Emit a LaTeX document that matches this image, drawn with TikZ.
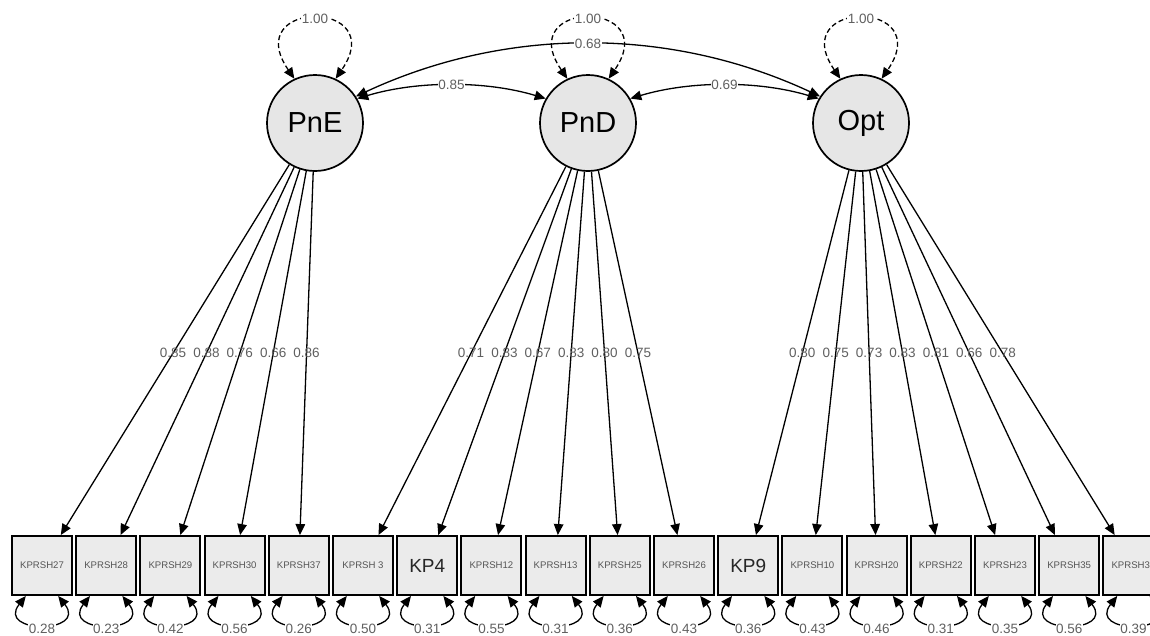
\documentclass[tikz,border=0pt]{standalone}
\usepackage{fontspec}
\setmainfont{Liberation Sans}
\usetikzlibrary{arrows.meta,calc}
\definecolor{latfill}{HTML}{E6E6E6}
\definecolor{manfill}{HTML}{EBEBEB}
\definecolor{txtgray}{HTML}{555555}
\definecolor{lblgray}{HTML}{606060}
\begin{document}
\begin{tikzpicture}[x=1pt,y=-1pt,
  tip/.tip={Triangle[length=11pt,width=9.5pt]},
  latent/.style={circle,draw,line width=1.7pt,fill=latfill,minimum size=96pt,inner sep=0pt,font=\fontsize{29}{31}\selectfont},
  manifest/.style={rectangle,draw,line width=1.9pt,fill=manfill,minimum width=60pt,minimum height=59pt,inner sep=0pt,font=\fontsize{9.6}{11}\selectfont,text=txtgray},
  bigman/.style={manifest,font=\fontsize{19}{21}\selectfont,text=black!85},
  load/.style={line width=1.3pt,-tip},
  cov/.style={line width=1.3pt,tip-tip},
  selfloop/.style={line width=1.3pt,dash pattern=on 5pt off 3pt,tip-tip},
  resid/.style={line width=1.3pt,tip-tip},
  lbl/.style={font=\fontsize{13.5}{15}\selectfont,text=lblgray,inner sep=0.5pt},
  wlbl/.style={lbl,fill=white},
]
\clip (0,0) rectangle (1150,635);
\fill[white] (0,0) rectangle (1150,635);

% latent variables
\node[latent] (PnE) at (315,123) {PnE};
\node[latent] (PnD) at (588,123) {PnD};
\node[latent] (Opt) at (861,123) {Opt};

% manifest variables
\foreach \i/\lab/\st in {0/KPRSH27/manifest,1/KPRSH28/manifest,2/KPRSH29/manifest,3/KPRSH30/manifest,4/KPRSH37/manifest,5/KPRSH 3/manifest,6/KP4/bigman,7/KPRSH12/manifest,8/KPRSH13/manifest,9/KPRSH25/manifest,10/KPRSH26/manifest,11/KP9/bigman,12/KPRSH10/manifest,13/KPRSH20/manifest,14/KPRSH22/manifest,15/KPRSH23/manifest,16/KPRSH35/manifest,17/KPRSH3\phantom{6}/manifest}
  \node[\st] (m\i) at (42+64.2*\i,565.5) {\lab};

% loadings
\foreach \i/\v in {0/0.85,1/0.88,2/0.76,3/0.66,4/0.86}{
  \draw[load] (PnE) -- (m\i);
  \node[lbl] at ($(PnE)!0.52!(m\i)$) {\v};
}
\foreach \i/\v in {5/0.71,6/0.83,7/0.67,8/0.83,9/0.80,10/0.75}{
  \draw[load] (PnD) -- (m\i);
  \node[lbl] at ($(PnD)!0.52!(m\i)$) {\v};
}
\foreach \i/\v in {11/0.80,12/0.75,13/0.73,14/0.83,15/0.81,16/0.66,17/0.78}{
  \draw[load] (Opt) -- (m\i);
  \node[lbl] at ($(Opt)!0.52!(m\i)$) {\v};
}

% residual variances
\foreach \i/\v in {0/0.28,1/0.23,2/0.42,3/0.56,4/0.26,5/0.50,6/0.31,7/0.55,8/0.31,9/0.36,10/0.43,11/0.36,12/0.43,13/0.46,14/0.31,15/0.35,16/0.56,17/0.39}
  \draw[resid] (m\i.-118) .. controls +(-30,38) and +(30,38) .. node[wlbl,yshift=-4pt] {\v} (m\i.-62);

% latent variances
\foreach \n in {PnE,PnD,Opt}
  \draw[selfloop] (\n.115) .. controls +(-55,-80) and +(55,-80) .. node[wlbl] {1.00} (\n.65);

% covariances
\draw[cov] (PnE.30) .. controls +(60,-18) and +(-60,-18) .. node[wlbl] {0.85} (PnD.150);
\draw[cov] (PnD.30) .. controls +(60,-18) and +(-60,-18) .. node[wlbl] {0.69} (Opt.150);
\draw[cov] (PnE.33) .. controls +(150,-70) and +(-150,-70) .. node[wlbl] {0.68} (Opt.147);
\end{tikzpicture}
\end{document}
